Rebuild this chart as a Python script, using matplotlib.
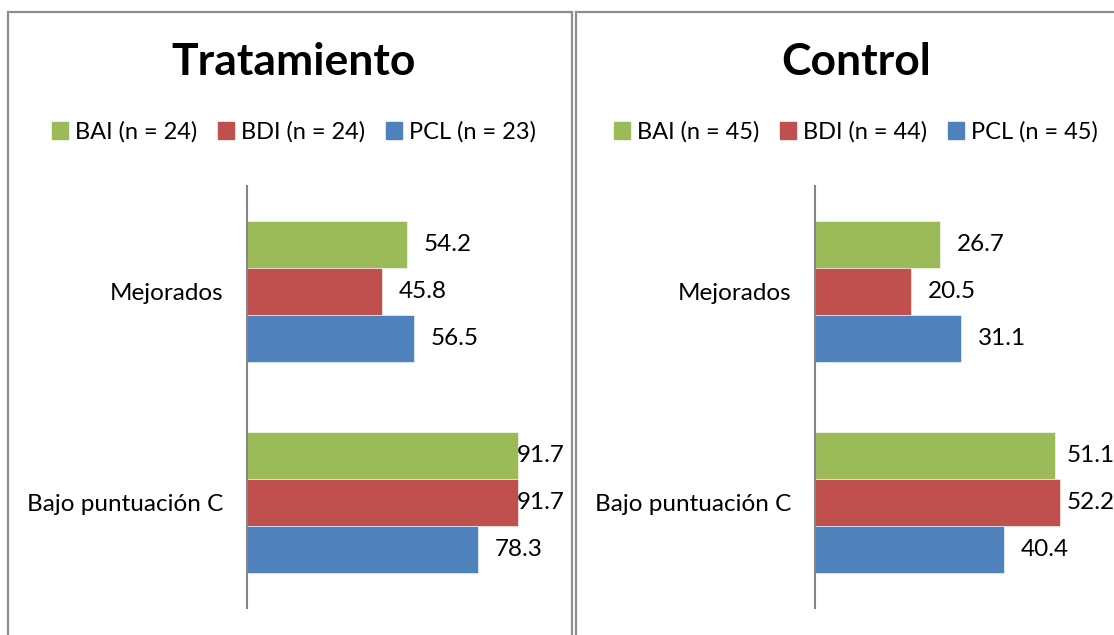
import numpy as np
import matplotlib.pyplot as plt
from matplotlib.patches import Patch, Rectangle

plt.rcParams['font.family'] = ['Lato', 'DejaVu Sans']

categories = ['Mejorados', 'Bajo puntuación C']
series = ['BAI', 'BDI', 'PCL']
colors = ['#9BBB59', '#C0504D', '#4F81BD']

# percentages per series, one value per category
trat_values = {'BAI': [54.2, 91.7], 'BDI': [45.8, 91.7], 'PCL': [56.5, 78.3]}
trat_n = {'BAI': 24, 'BDI': 24, 'PCL': 23}
ctrl_values = {'BAI': [26.7, 51.1], 'BDI': [20.5, 52.2], 'PCL': [31.1, 40.4]}
ctrl_n = {'BAI': 45, 'BDI': 44, 'PCL': 45}

W, H = 1114, 635
fig = plt.figure(figsize=(W / 100, H / 100), dpi=100)


def px_axes(x0, y0, x1, y1):
    return fig.add_axes([x0 / W, 1 - y1 / H, (x1 - x0) / W, (y1 - y0) / H])


def panel_box(x0, x1):
    fig.add_artist(Rectangle((x0 / W, -0.05), (x1 - x0) / W, 1.05 - 12 / H,
                             transform=fig.transFigure, fill=False,
                             edgecolor='#8e8e8e', linewidth=1.6))


def draw_panel(ax, values, n, xmax, label_cap, title, cx):
    h = 0.223
    y = np.arange(len(categories))
    for i, s in enumerate(series):
        ypos = y + (i - 1) * h
        ax.barh(ypos, values[s], height=h, color=colors[i],
                edgecolor='white', linewidth=0.4, label=f'{s} (n = {n[s]})')
        # value labels sit right of the bar, kept inside the panel
        for yy, v in zip(ypos, values[s]):
            ax.annotate(f'{v:.1f}', (min(v, label_cap), yy),
                        xytext=(12, 0), textcoords='offset points',
                        ha='left', va='center', fontsize=17.5,
                        color='black', annotation_clip=False)
    ax.set_xlim(0, xmax)
    ax.set_ylim(len(categories) - 0.5, -0.5)
    ax.set_yticks(y)
    ax.set_yticklabels(categories, fontsize=17.5)
    ax.tick_params(axis='y', length=0, pad=17)
    ax.set_xticks([])
    for side in ['top', 'right', 'bottom']:
        ax.spines[side].set_visible(False)
    ax.spines['left'].set_color('#868686')
    ax.spines['left'].set_linewidth(1.5)
    ax.patch.set_alpha(0)

    fig.text(cx / W, 1 - 62 / H, title, ha='center', va='center',
             fontsize=32, fontweight='bold')
    handles = [Patch(color=c) for c in colors]
    labels = [f'{s} (n = {n[s]})' for s in series]
    fig.legend(handles, labels, loc='center', ncol=3, frameon=False,
               bbox_to_anchor=(cx / W, 1 - 132 / H), fontsize=17,
               handlelength=0.7, handleheight=0.7, handletextpad=0.3,
               columnspacing=0.85, borderaxespad=0)


panel_box(8, 572)
panel_box(576, 1130)

ax1 = px_axes(247, 186, 542.5, 608)
draw_panel(ax1, trat_values, trat_n, 100, 85.6, 'Tratamiento', 294)

ax2 = px_axes(815, 186, 1096.4, 608)
draw_panel(ax2, ctrl_values, ctrl_n, 60, 50.0, 'Control', 856)

fig.savefig('out.png', dpi=100)
